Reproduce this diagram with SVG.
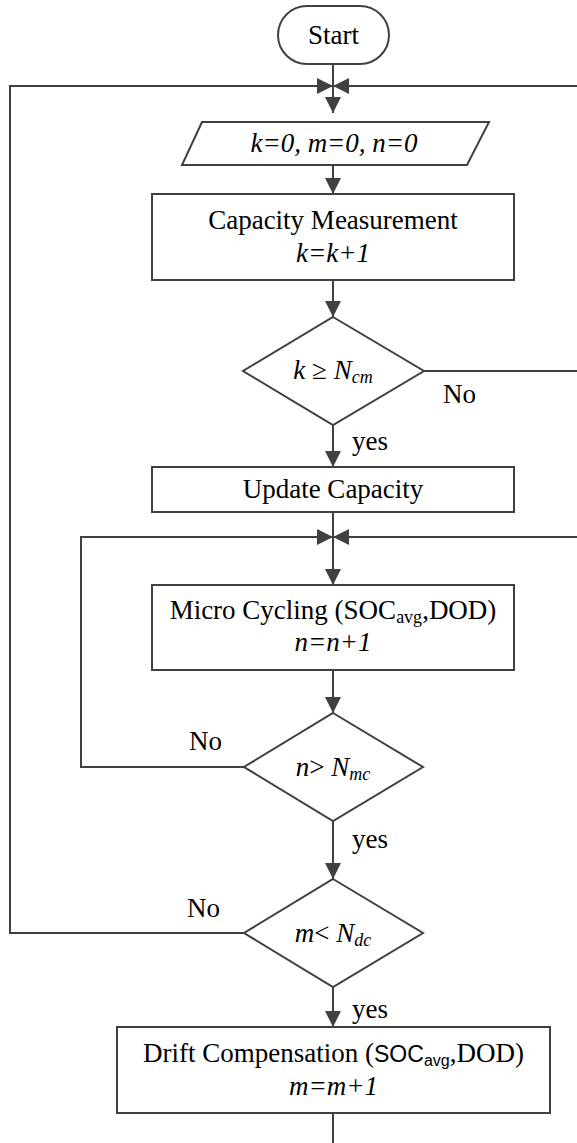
<svg xmlns="http://www.w3.org/2000/svg" width="577" height="1143" viewBox="0 0 577 1143">
<defs>
<marker id="ah" markerUnits="userSpaceOnUse" markerWidth="16" markerHeight="16" refX="16" refY="8" orient="auto"><path d="M0,0 L16,8 L0,16 Z" fill="#404040"/></marker>
</defs>
<style>
.sh{fill:#fff;stroke:#404040;stroke-width:2}
.ln{fill:none;stroke:#404040;stroke-width:2;marker-end:url(#ah)}
.pl{fill:none;stroke:#404040;stroke-width:2}
.t{font-family:"Liberation Serif","Times New Roman",serif;font-size:27px;fill:#000;text-anchor:middle}
.l{font-family:"Liberation Serif","Times New Roman",serif;font-size:27px;fill:#000}
.i{font-style:italic}
.sub{font-size:18px}
.ss{font-family:"Liberation Sans",Arial,sans-serif;font-size:23px}
.ssub{font-family:"Liberation Sans",Arial,sans-serif;font-size:16px}
</style>
<rect width="577" height="1143" fill="#fff"/>
<g id="connectors">
<path class="ln" d="M333,64 V113"/>
<path class="ln" d="M244,933 H10 V86 H333"/>
<path class="ln" d="M577,86 H333"/>
<path class="ln" d="M333,165 V194"/>
<path class="ln" d="M333,280 V317"/>
<path class="pl" d="M424,371 H577"/>
<path class="ln" d="M333,425 V467"/>
<path class="ln" d="M333,512 V585"/>
<path class="ln" d="M244,767 H81 V537 H333"/>
<path class="ln" d="M577,537 H333"/>
<path class="ln" d="M333,670 V713"/>
<path class="ln" d="M333,821 V879"/>
<path class="ln" d="M333,987 V1027"/>
<path class="pl" d="M333,1113 V1143"/>
</g>
<g id="start">
<rect class="sh" x="278" y="6" width="111" height="58" rx="29"/>
<text class="t" x="333.5" y="44">Start</text>
</g>
<g id="init">
<polygon class="sh" points="202,122 489,122 467,165 182,165"/>
<text class="t i" x="334" y="152">k=0, m=0, n=0</text>
</g>
<g id="capacity">
<rect class="sh" x="152" y="194" width="362" height="86"/>
<text class="t" x="333" y="229">Capacity Measurement</text>
<text class="t i" x="333" y="262">k=k+1</text>
</g>
<g id="dec1">
<polygon class="sh" points="333,317 424,371 333,425 243,371"/>
<text class="t" x="333" y="379"><tspan class="i">k</tspan> ≥ <tspan class="i">N</tspan><tspan class="i sub" dy="4">cm</tspan></text>
<text class="l" x="443" y="403">No</text>
<text class="l" x="352" y="450">yes</text>
</g>
<g id="update">
<rect class="sh" x="152" y="467" width="362" height="45"/>
<text class="t" x="333" y="498">Update Capacity</text>
</g>
<g id="micro">
<rect class="sh" x="152" y="585" width="362" height="85"/>
<text class="t" x="333" y="619">Micro Cycling (SOC<tspan class="sub" dy="4">avg</tspan><tspan dy="-4">,DOD)</tspan></text>
<text class="t i" x="333" y="651">n=n+1</text>
</g>
<g id="dec2">
<polygon class="sh" points="333,713 423,767 333,821 244,767"/>
<text class="t" x="333" y="776"><tspan class="i">n</tspan>&gt; <tspan class="i">N</tspan><tspan class="i sub" dy="4">mc</tspan></text>
<text class="l" x="189" y="750">No</text>
<text class="l" x="352" y="848">yes</text>
</g>
<g id="dec3">
<polygon class="sh" points="333,879 423,933 333,987 244,933"/>
<text class="t" x="333" y="942"><tspan class="i">m</tspan>&lt; <tspan class="i">N</tspan><tspan class="i sub" dy="4">dc</tspan></text>
<text class="l" x="187" y="917">No</text>
<text class="l" x="352" y="1018">yes</text>
</g>
<g id="drift">
<rect class="sh" x="117" y="1027" width="433" height="86"/>
<text class="t" x="333.5" y="1062">Drift Compensation (<tspan class="ss">SOC</tspan><tspan class="ssub" dy="4">avg</tspan><tspan dy="-4">,DOD)</tspan></text>
<text class="t i" x="333.5" y="1095">m=m+1</text>
</g>
</svg>
